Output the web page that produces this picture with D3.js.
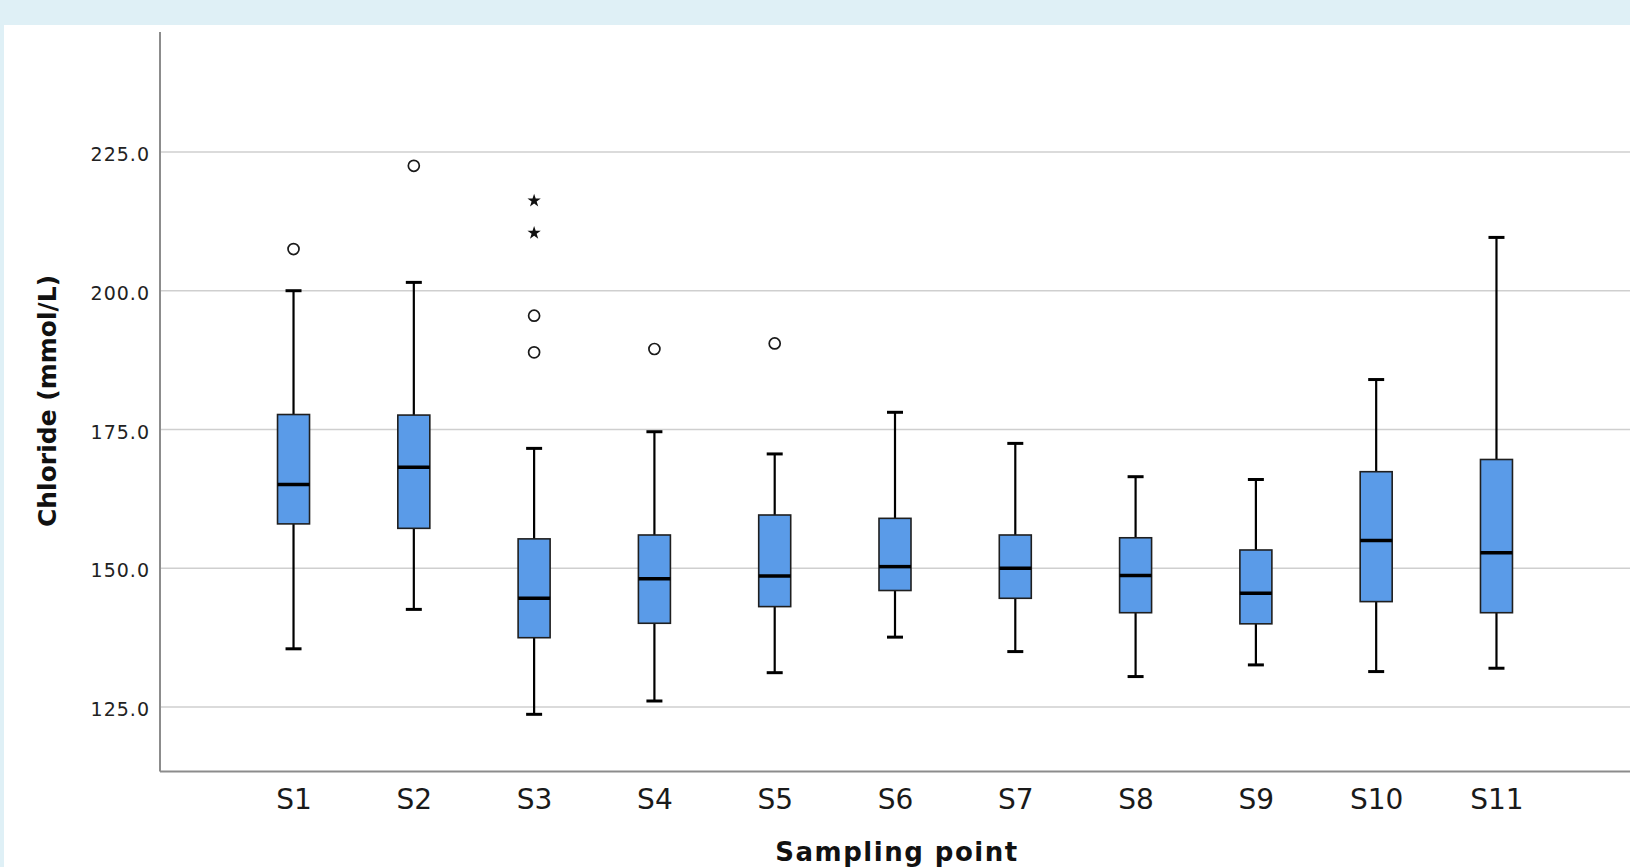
<!DOCTYPE html>
<html>
<head>
<meta charset="utf-8">
<script src="https://cdn.jsdelivr.net/npm/d3@7"></script>
<style>
  html, body { margin: 0; padding: 0; background: #dff0f6; }
  svg { display: block; }
  text { font-family: "DejaVu Sans", sans-serif; }
</style>
</head>
<body>
<div id="chart"></div>
<script>
// box plot of chloride by sampling point
var categories = ["S1", "S2", "S3", "S4", "S5", "S6", "S7", "S8", "S9", "S10", "S11"];
var whiskerLow  = [135.5, 142.6, 123.7, 126.1, 131.2, 137.6, 135.0, 130.5, 132.6, 131.4, 132.0];
var q1          = [158.0, 157.2, 137.5, 140.1, 143.1, 146.0, 144.6, 142.0, 140.0, 144.0, 142.0];
var median      = [165.1, 168.2, 144.6, 148.1, 148.6, 150.3, 150.0, 148.7, 145.5, 155.0, 152.8];
var q3          = [177.7, 177.6, 155.3, 156.0, 159.6, 159.0, 156.0, 155.5, 153.3, 167.4, 169.6];
var whiskerHigh = [200.0, 201.5, 171.6, 174.6, 170.6, 178.1, 172.5, 166.5, 166.0, 184.0, 209.6];
// outliers (circles) and extremes (stars)
var outliers = [[207.5], [222.5], [195.5, 188.9], [189.5], [190.5], [], [], [], [], [], []];
var extremes = [[], [], [216.2, 210.4], [], [], [], [], [], [], [], []];
var yTicks = [125, 150, 175, 200, 225];

var W = 1630, H = 867;
var plotLeft = 160, plotTop = 32, plotBottom = 771.5, plotRight = 1630;

var svg = d3.select("#chart").append("svg")
    .attr("width", W)
    .attr("height", H);

// white panel inside the light blue frame
svg.append("rect")
    .attr("x", 4).attr("y", 25)
    .attr("width", W - 4).attr("height", H - 25)
    .attr("fill", "#ffffff");

var x = d3.scalePoint()
    .domain(categories)
    .range([plotLeft, plotRight])
    .padding(1.11);

var y = d3.scaleLinear()
    .domain([113.4, 246.6])
    .range([plotBottom, plotTop]);

// gridlines
svg.append("g").selectAll("line")
    .data(yTicks)
    .enter().append("line")
    .attr("x1", plotLeft).attr("x2", plotRight)
    .attr("y1", function(d) { return y(d); })
    .attr("y2", function(d) { return y(d); })
    .attr("stroke", "#cfcfcf")
    .attr("stroke-width", 1.5);

// y axis, drawn with d3.axisLeft then restyled
var yAxis = svg.append("g")
    .attr("transform", "translate(" + plotLeft + ",0)")
    .call(d3.axisLeft(y).tickValues(yTicks).tickSize(0).tickPadding(10)
        .tickFormat(d3.format(".1f")));
yAxis.select(".domain").remove();
yAxis.selectAll("text")
    .attr("font-family", "DejaVu Sans, sans-serif")
    .attr("font-size", 19)
    .attr("letter-spacing", 1)
    .attr("fill", "#222")
    .attr("dy", "0.45em");

// x axis
var xAxis = svg.append("g")
    .attr("transform", "translate(0," + plotBottom + ")")
    .call(d3.axisBottom(x).tickSize(0).tickPadding(0));
xAxis.select(".domain").remove();
xAxis.selectAll("text")
    .attr("font-family", "DejaVu Sans, sans-serif")
    .attr("font-size", 28)
    .attr("fill", "#1a1a1a")
    .attr("dy", null)
    .attr("y", 37.5);

// axis lines
svg.append("line")
    .attr("x1", plotLeft).attr("x2", plotLeft)
    .attr("y1", plotTop).attr("y2", plotBottom)
    .attr("stroke", "#8c8c8c").attr("stroke-width", 2);
svg.append("line")
    .attr("x1", plotLeft).attr("x2", plotRight)
    .attr("y1", plotBottom).attr("y2", plotBottom)
    .attr("stroke", "#8c8c8c").attr("stroke-width", 2);

var boxW = 32, capW = 16;

var boxes = svg.append("g").selectAll("g")
    .data(categories)
    .enter().append("g")
    .attr("transform", function(d) { return "translate(" + x(d) + ",0)"; });

// whiskers
boxes.append("line")
    .attr("x1", 0).attr("x2", 0)
    .attr("y1", function(d, i) { return y(whiskerHigh[i]); })
    .attr("y2", function(d, i) { return y(q3[i]); })
    .attr("stroke", "#000").attr("stroke-width", 2.2);
boxes.append("line")
    .attr("x1", 0).attr("x2", 0)
    .attr("y1", function(d, i) { return y(q1[i]); })
    .attr("y2", function(d, i) { return y(whiskerLow[i]); })
    .attr("stroke", "#000").attr("stroke-width", 2.2);

// caps
boxes.append("line")
    .attr("x1", -capW / 2).attr("x2", capW / 2)
    .attr("y1", function(d, i) { return y(whiskerHigh[i]); })
    .attr("y2", function(d, i) { return y(whiskerHigh[i]); })
    .attr("stroke", "#000").attr("stroke-width", 3);
boxes.append("line")
    .attr("x1", -capW / 2).attr("x2", capW / 2)
    .attr("y1", function(d, i) { return y(whiskerLow[i]); })
    .attr("y2", function(d, i) { return y(whiskerLow[i]); })
    .attr("stroke", "#000").attr("stroke-width", 3);

// boxes
boxes.append("rect")
    .attr("x", -boxW / 2)
    .attr("width", boxW)
    .attr("y", function(d, i) { return y(q3[i]); })
    .attr("height", function(d, i) { return y(q1[i]) - y(q3[i]); })
    .attr("fill", "#5a9be8")
    .attr("stroke", "#1f1f1f")
    .attr("stroke-width", 1.6);

// medians
boxes.append("line")
    .attr("x1", -boxW / 2).attr("x2", boxW / 2)
    .attr("y1", function(d, i) { return y(median[i]); })
    .attr("y2", function(d, i) { return y(median[i]); })
    .attr("stroke", "#000").attr("stroke-width", 3.5);

// outlier circles and extreme stars
boxes.each(function(d, i) {
    d3.select(this).selectAll("circle")
        .data(outliers[i])
        .enter().append("circle")
        .attr("cx", 0)
        .attr("cy", function(v) { return y(v); })
        .attr("r", 5.5)
        .attr("fill", "none")
        .attr("stroke", "#1a1a1a")
        .attr("stroke-width", 1.7);

    d3.select(this).selectAll("path.star")
        .data(extremes[i])
        .enter().append("path")
        .attr("class", "star")
        .attr("transform", function(v) { return "translate(0," + y(v) + ")"; })
        .attr("d", d3.symbol().type(d3.symbolStar).size(55))
        .attr("fill", "#111");
});

// axis titles
svg.append("text")
    .attr("transform", "translate(56,401) rotate(-90)")
    .attr("text-anchor", "middle")
    .attr("font-size", 25)
    .attr("font-weight", "bold")
    .attr("fill", "#111")
    .text("Chloride (mmol/L)");

svg.append("text")
    .attr("x", 897)
    .attr("y", 861)
    .attr("text-anchor", "middle")
    .attr("font-size", 26)
    .attr("font-weight", "bold")
    .attr("letter-spacing", 1.5)
    .attr("fill", "#111")
    .text("Sampling point");
</script>
</body>
</html>
